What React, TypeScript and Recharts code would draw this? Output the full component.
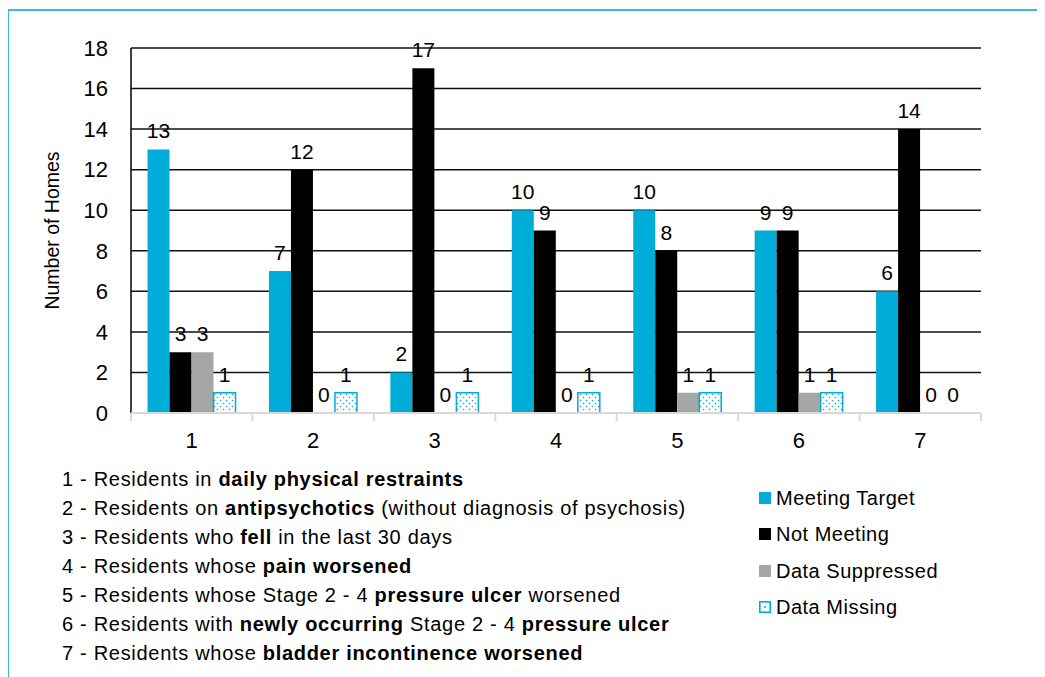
import React from 'react';
import { BarChart, Bar, XAxis, YAxis, CartesianGrid, LabelList, Cell } from 'recharts';

// ---- data ----
const categories = ['1', '2', '3', '4', '5', '6', '7'];
const meetingTarget = [13, 7, 2, 10, 10, 9, 6];
const notMeeting = [3, 12, 17, 9, 8, 9, 14];
const dataSuppressed = [3, 0, 0, 0, 1, 1, 0];
const dataMissing = [1, 1, 1, 1, 1, 1, 0];
const yTicks = [0, 2, 4, 6, 8, 10, 12, 14, 16, 18];
const seriesNames = ['Meeting Target', 'Not Meeting', 'Data Suppressed', 'Data Missing'];
const yAxisTitle = 'Number of Homes';
const categoryDescriptions: [string, boolean][][] = [
  [['Residents in ', false], ['daily physical restraints', true]],
  [['Residents on ', false], ['antipsychotics', true], [' (without diagnosis of psychosis)', false]],
  [['Residents who ', false], ['fell', true], [' in the last 30 days', false]],
  [['Residents whose ', false], ['pain worsened', true]],
  [['Residents whose Stage 2 - 4 ', false], ['pressure ulcer', true], [' worsened', false]],
  [['Residents with ', false], ['newly occurring', true], [' Stage 2 - 4 ', false], ['pressure ulcer', true]],
  [['Residents whose ', false], ['bladder incontinence worsened', true]],
];

const data = categories.map((c, i) => ({
  cat: c,
  meeting: meetingTarget[i],
  not: notMeeting[i],
  supp: dataSuppressed[i],
  miss: dataMissing[i],
}));

// ---- styles ----
const FONT = '"Liberation Sans", Arial, Helvetica, sans-serif';
const BLUE = '#00ADD8';
const GRAY = '#A6A6A6';
const W = 1045;
const H = 460;
const MARGIN = { top: 48, right: 64, bottom: 0, left: 20 };
const Y_AXIS_W = 111;
const PLOT_LEFT = MARGIN.left + Y_AXIS_W;
const PLOT_RIGHT = W - MARGIN.right;
const HALF_BAND = (PLOT_RIGHT - PLOT_LEFT) / categories.length / 2;
const LABEL_PROPS = { position: 'top' as const, offset: 11, fill: '#000', fontSize: 21, fontFamily: FONT };

function XTick(props: any) {
  const { x, y, payload, index } = props;
  const isLast = index === categories.length - 1;
  return (
    <g>
      <line x1={x - HALF_BAND} x2={x - HALF_BAND} y1={y} y2={y + 8} stroke="#D9D9D9" strokeWidth={2} />
      {isLast && (
        <line x1={x + HALF_BAND} x2={x + HALF_BAND} y1={y} y2={y + 8} stroke="#D9D9D9" strokeWidth={2} />
      )}
      <text x={x} y={y + 35} textAnchor="middle" fontSize={22} fill="#000" fontFamily={FONT}>
        {payload.value}
      </text>
    </g>
  );
}

const seriesColors = [BLUE, '#000', GRAY, 'pattern'];

function LegendMarker({ kind }: { kind: string }) {
  if (kind === 'pattern') {
    return (
      <svg width={12} height={12} style={{ display: 'block', marginRight: 5, flex: 'none' }}>
        <rect x={0.8} y={0.8} width={10.4} height={10.4} fill="#fff" stroke={BLUE} strokeWidth={1.6} />
        <circle cx={6} cy={6} r={1} fill={BLUE} />
      </svg>
    );
  }
  return (
    <span
      style={{
        display: 'block',
        flex: 'none',
        width: 12,
        height: 12,
        background: kind,
        marginRight: 5,
      }}
    />
  );
}

export default function App() {
  return (
    <div
      style={{
        position: 'relative',
        width: W,
        height: 677,
        margin: '-8px 0 0 -8px',
        overflow: 'hidden',
        background: '#fff',
        fontFamily: FONT,
        color: '#000',
      }}
    >
      <div
        style={{
          position: 'absolute',
          left: 7,
          top: 9,
          width: W,
          height: 700,
          borderLeft: '2px solid #3DB8E2',
          borderTop: '2px solid #3DB8E2',
        }}
      />
      <div style={{ position: 'absolute', left: 0, top: 0 }}>
        <BarChart width={W} height={H} data={data} margin={MARGIN} barCategoryGap="13.6%" barGap={0}>
          <defs>
            <pattern id="dots" width={6} height={6} patternUnits="userSpaceOnUse">
              <rect width={6} height={6} fill="#fff" />
              <circle cx={1.5} cy={1.5} r={0.8} fill={BLUE} />
              <circle cx={4.5} cy={4.5} r={0.8} fill={BLUE} />
            </pattern>
          </defs>
          <CartesianGrid vertical={false} stroke="#111" strokeWidth={1.5} />
          <YAxis
            domain={[0, 18]}
            ticks={yTicks}
            width={Y_AXIS_W}
            tickLine={false}
            tickMargin={17}
            axisLine={{ stroke: '#000', strokeWidth: 1.5 }}
            tick={{ fontSize: 22, fill: '#000', fontFamily: FONT }}
            label={{
              value: yAxisTitle,
              angle: -90,
              position: 'insideLeft',
              offset: 32,
              fontSize: 19.5,
              fill: '#000',
              fontFamily: FONT,
              style: { textAnchor: 'middle' },
            }}
          />
          <YAxis
            yAxisId="right"
            orientation="right"
            domain={[0, 18]}
            width={0}
            tick={false}
            tickLine={false}
            axisLine={{ stroke: '#000', strokeWidth: 1.5 }}
          />
          <XAxis
            dataKey="cat"
            height={47}
            interval={0}
            tickSize={0}
            tickMargin={0}
            tickLine={false}
            axisLine={{ stroke: '#D9D9D9', strokeWidth: 2 }}
            tick={<XTick />}
          />
          <Bar dataKey="meeting" name={seriesNames[0]} fill={BLUE} isAnimationActive={false}>
            <LabelList dataKey="meeting" {...LABEL_PROPS} />
          </Bar>
          <Bar dataKey="not" name={seriesNames[1]} fill="#000" isAnimationActive={false}>
            <LabelList dataKey="not" {...LABEL_PROPS} />
          </Bar>
          <Bar dataKey="supp" name={seriesNames[2]} fill={GRAY} minPointSize={0.01} isAnimationActive={false}>
            <LabelList dataKey="supp" {...LABEL_PROPS} />
          </Bar>
          <Bar
            dataKey="miss"
            name={seriesNames[3]}
            fill="url(#dots)"
            strokeWidth={1.5}
            minPointSize={0.01}
            isAnimationActive={false}
          >
            {dataMissing.map((v, i) => (
              <Cell key={i} stroke={v > 0 ? BLUE : 'none'} fill={v > 0 ? 'url(#dots)' : 'none'} />
            ))}
            <LabelList dataKey="miss" {...LABEL_PROPS} />
          </Bar>
        </BarChart>
      </div>

      <div
        style={{
          position: 'absolute',
          left: 62,
          top: 464.5,
          fontSize: 20,
          lineHeight: '29.1px',
          letterSpacing: 0.7,
          whiteSpace: 'nowrap',
        }}
      >
        {categoryDescriptions.map((parts, i) => (
          <div key={i}>
            {categories[i]} - {parts.map(([t, b], j) => (
              <span key={j} style={{ fontWeight: b ? 'bold' : 'normal' }}>
                {t}
              </span>
            ))}
          </div>
        ))}
      </div>

      <div
        style={{
          position: 'absolute',
          left: 759,
          top: 479.9,
          fontSize: 20,
          letterSpacing: 0.5,
          whiteSpace: 'nowrap',
        }}
      >
        {seriesNames.map((n, i) => (
          <div key={n} style={{ display: 'flex', alignItems: 'center', height: 36.3 }}>
            <LegendMarker kind={seriesColors[i]} />
            <span style={{ lineHeight: '20px' }}>{n}</span>
          </div>
        ))}
      </div>
    </div>
  );
}
